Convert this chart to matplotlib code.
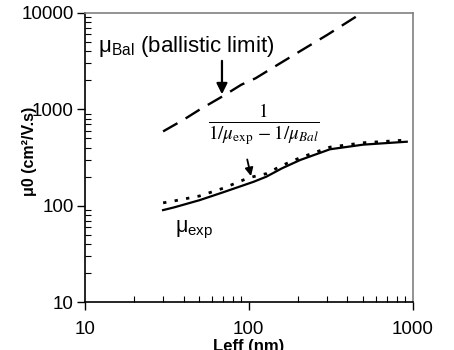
import matplotlib
matplotlib.use("Agg")
import matplotlib.pyplot as plt
from matplotlib.ticker import LogLocator, NullFormatter

plt.rcParams["font.family"] = ["Liberation Sans", "DejaVu Sans"]
plt.rcParams["mathtext.fontset"] = "custom"
plt.rcParams["mathtext.rm"] = "Liberation Sans"
plt.rcParams["mathtext.it"] = "Liberation Sans:italic"

# ballistic limit (dashed)
leff_bal = [30, 40, 50, 70, 90, 110, 130, 200, 300, 490]
mu_bal = [590, 780, 990, 1380, 1800, 2100, 2500, 3900, 5900, 10000]

# measured mobility (solid)
leff_exp = [30, 35, 50, 70, 107, 128, 160, 206, 313, 500, 920]
mu_exp = [90, 96, 114, 138, 177, 200, 245, 298, 385, 430, 461]

# corrected mobility (dotted)
leff_corr = [30, 35, 50, 70, 100, 128, 160, 206, 313, 500, 920]
mu_corr = [107, 112, 126, 152, 195, 215, 262, 315, 405, 450, 480]

fig = plt.figure(figsize=(4.54, 3.5), dpi=100)
ax = fig.add_axes([0.187, 0.137, 0.722, 0.826])

ax.plot(leff_bal, mu_bal, color="black", lw=1.7, dashes=(7, 4))
ax.plot(leff_exp, mu_exp, color="black", lw=1.6)
ax.plot(leff_corr, mu_corr, color="black", lw=2.0, dashes=(1.2, 3.0))

ax.set_xscale("log")
ax.set_yscale("log")
ax.set_xlim(10, 1000)
ax.set_ylim(10, 10000)

ax.set_xticks([10, 100, 1000])
ax.set_xticklabels(["10", "100", "1000"])
ax.set_yticks([10, 100, 1000, 10000])
ax.set_yticklabels(["10", "100", "1000", "10000"])
ax.xaxis.set_minor_locator(LogLocator(base=10, subs=range(2, 10)))
ax.yaxis.set_minor_locator(LogLocator(base=10, subs=range(2, 10)))
ax.xaxis.set_minor_formatter(NullFormatter())
ax.yaxis.set_minor_formatter(NullFormatter())

ax.tick_params(which="major", direction="out", length=6, width=1, labelsize=13.5)
ax.tick_params(axis="x", which="major", pad=8)
ax.tick_params(axis="y", which="major", pad=2)
ax.tick_params(which="minor", direction="in", length=4, width=0.8)

for side in ["top", "right"]:
    ax.spines[side].set_color("#808080")
    ax.spines[side].set_linewidth(1.2)
for side in ["left", "bottom"]:
    ax.spines[side].set_linewidth(1.2)

ax.set_xlabel("Leff (nm)", fontsize=12, fontweight="bold")
ax.xaxis.set_label_coords(0.5, -0.127, transform=ax.transAxes)
ax.xaxis.label.set_va("top")
ax.set_ylabel("μ0 (cm²/V.s)", fontsize=11.5, fontweight="bold")
ax.yaxis.set_label_coords(-0.145, 0.52, transform=ax.transAxes)

ax.text(12.0, 4440, "μ$_{\\mathrm{Bal}}$ (ballistic limit)", fontsize=16,
        ha="left", va="center")
ax.annotate("", xy=(68.6, 1340), xytext=(68.6, 3400),
            arrowprops=dict(arrowstyle="-|>", color="black", lw=1.6,
                            mutation_scale=16))

ax.text(124, 690, r"$\frac{1}{1/\mu_{\mathrm{exp}}\,-1/\mu_{Bal}}$", fontsize=19.5,
        ha="center", va="center", math_fontfamily="stix")
ax.annotate("", xy=(104, 190), xytext=(97, 322),
            arrowprops=dict(arrowstyle="-|>", color="black", lw=1.3,
                            mutation_scale=12))

ax.text(35.4, 56, "μ$_{\\mathrm{exp}}$", fontsize=15.5, ha="left", va="center")

fig.savefig("out.png", dpi=100)
